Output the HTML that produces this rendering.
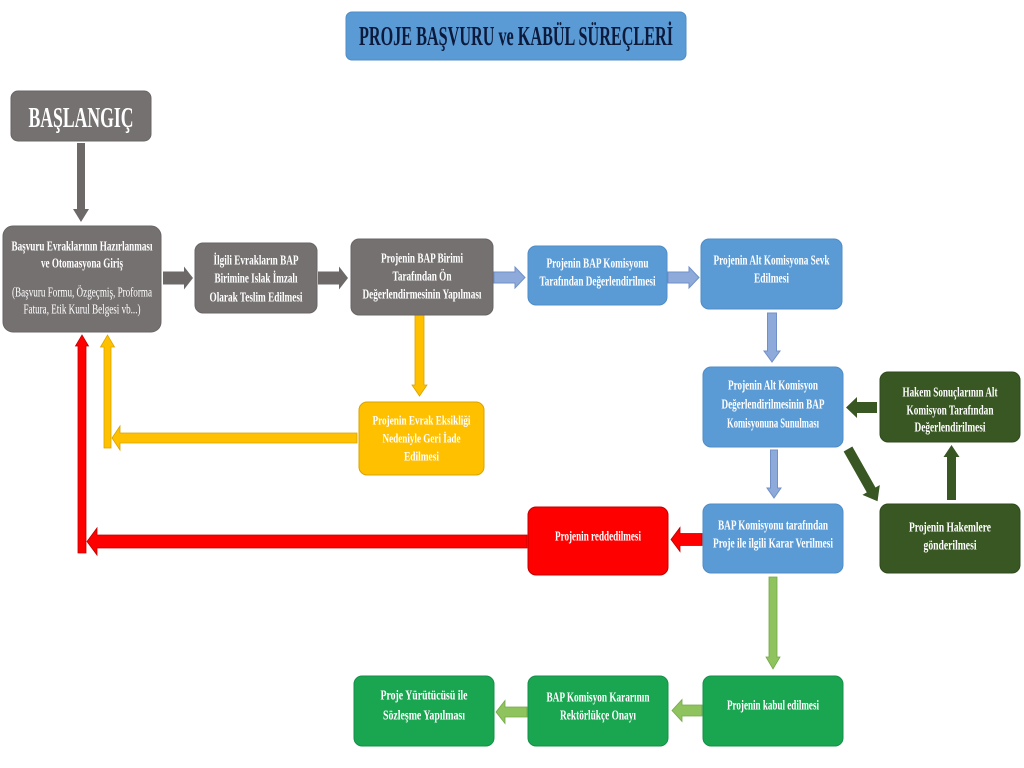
<!DOCTYPE html>
<html><head><meta charset="utf-8"><style>
html,body{margin:0;padding:0;background:#fff;}
svg{display:block;}
text{font-family:"Liberation Serif",serif;font-weight:bold;fill:#fff;}
</style></head><body>
<svg width="1024" height="768" viewBox="0 0 1024 768" xmlns="http://www.w3.org/2000/svg">
<rect x="0" y="0" width="1024" height="768" fill="#fff"/>

<!-- Title -->
<rect x="346" y="12" width="340" height="48" rx="6" fill="#5b9bd5" stroke="#4f8cc6" stroke-width="1"/>
<text x="516" y="45" font-size="27" text-anchor="middle" textLength="314" lengthAdjust="spacingAndGlyphs" style="fill:#0c1a3c">PROJE BAŞVURU ve KABÜL SÜREÇLERİ</text>

<!-- Arrows -->
<g fill="#6d6969">
<polygon points="77,143 85,143 85,209 89,209 81,222 73,209 77,209"/>
<polygon points="163,271.5 184,271.5 184,266.5 193,278 184,289.5 184,284.5 163,284.5"/>
<polygon points="318,271.5 339,271.5 339,266.5 348,278 339,289.5 339,284.5 318,284.5"/>
</g>
<g fill="#8eaadb" stroke="#7190c8" stroke-width="1">
<polygon points="494,272 515,272 515,267 525,277.5 515,288 515,283 494,283"/>
<polygon points="668,272 689,272 689,267 699,277.5 689,288 689,283 668,283"/>
<polygon points="767.5,313 776.5,313 776.5,351 780,351 772,362 764,351 767.5,351"/>
<polygon points="770.5,450 777.5,450 777.5,488 781,488 774,498 767,488 770.5,488"/>
</g>
<g fill="#385723">
<polygon points="877,402 857,402 857,397 846,407.5 857,418 857,413 877,413"/>
<polygon transform="translate(848,449) rotate(60.5)" points="0,-5 47,-5 47,-10 60,0 47,10 47,5 0,5"/>
<polygon points="947,500 956,500 956,457 959.5,457 951.5,445 943.5,457 947,457"/>
</g>
<g fill="#ff0000" stroke="#c00000" stroke-width="0.8">
<polygon points="702,533.5 680,533.5 680,527.5 671,539.5 680,551.5 680,545.5 702,545.5"/>
<polygon points="527,535 97,535 97,528 87,541.5 97,555 97,548 527,548"/>
<polygon points="78,553 78,346 75.5,346 82,335 88.5,346 86,346 86,553"/>
</g>
<g fill="#ffc000" stroke="#d9a400" stroke-width="0.8">
<polygon points="104,448 104,347 100.5,347 107.5,335 114.5,347 111,347 111,448"/>
<polygon points="357,433 120,433 120,426 112,438 120,450 120,443 357,443"/>
<polygon points="415,315 424,315 424,385 427,385 419.5,396 412,385 415,385"/>
</g>
<g fill="#8fc35e" stroke="#74a947" stroke-width="0.8">
<polygon points="769,577 777,577 777,657 780,657 773,669 766,657 769,657"/>
<polygon points="702,705 682,705 682,699.5 672,710.5 682,721.5 682,716 702,716"/>
<polygon points="527,707 505,707 505,700.5 496,712 505,723.5 505,717 527,717"/>
</g>

<!-- Gray boxes -->
<g fill="#767171" stroke="#6a6565" stroke-width="1">
<rect x="11" y="91" width="140" height="50" rx="7"/>
<rect x="3" y="226" width="158" height="106" rx="10"/>
<rect x="195" y="243" width="122" height="70" rx="8"/>
<rect x="351" y="239" width="142" height="76" rx="8"/>
</g>
<!-- Blue boxes -->
<g fill="#5b9bd5" stroke="#4f8cc6" stroke-width="1">
<rect x="528" y="246" width="139" height="59" rx="8"/>
<rect x="701" y="239" width="141" height="70" rx="8"/>
<rect x="703" y="367" width="140" height="80" rx="8"/>
<rect x="703" y="504" width="140" height="69" rx="8"/>
</g>
<!-- Dark green -->
<g fill="#385723" stroke="#2f4a1d" stroke-width="1">
<rect x="880" y="372" width="140" height="70" rx="8"/>
<rect x="880" y="504" width="140" height="69" rx="8"/>
</g>
<rect x="528" y="507" width="140" height="68" rx="8" fill="#ff0000" stroke="#c00000" stroke-width="1"/>
<rect x="359" y="402" width="125" height="73" rx="8" fill="#ffc000" stroke="#d9a400" stroke-width="1"/>
<g fill="#1aa551" stroke="#15904a" stroke-width="1">
<rect x="354" y="676" width="140" height="70" rx="8"/>
<rect x="528" y="676" width="140" height="70" rx="8"/>
<rect x="703" y="676" width="140" height="70" rx="8"/>
</g>

<!-- Texts -->
<g text-anchor="middle" font-size="14">
<text x="81" y="127" font-size="28" textLength="105" lengthAdjust="spacingAndGlyphs">BAŞLANGIÇ</text>

<text x="82" y="250.5" textLength="141" lengthAdjust="spacingAndGlyphs">Başvuru Evraklarının Hazırlanması</text>
<text x="82" y="267.5" textLength="82" lengthAdjust="spacingAndGlyphs">ve Otomasyona Giriş</text>
<text x="82" y="296.5" textLength="140" lengthAdjust="spacingAndGlyphs" style="font-weight:normal">(Başvuru Formu, Özgeçmiş, Proforma</text>
<text x="82" y="313.5" textLength="117" lengthAdjust="spacingAndGlyphs" style="font-weight:normal">Fatura, Etik Kurul Belgesi vb...)</text>

<text x="256" y="264.5" textLength="85" lengthAdjust="spacingAndGlyphs">İlgili Evrakların BAP</text>
<text x="256" y="282.5" textLength="83" lengthAdjust="spacingAndGlyphs">Birimine Islak İmzalı</text>
<text x="256" y="301.5" textLength="93" lengthAdjust="spacingAndGlyphs">Olarak Teslim Edilmesi</text>

<text x="422" y="262.5" textLength="82" lengthAdjust="spacingAndGlyphs">Projenin BAP Birimi</text>
<text x="422" y="280.5" textLength="59" lengthAdjust="spacingAndGlyphs">Tarafından Ön</text>
<text x="422" y="298.5" textLength="119" lengthAdjust="spacingAndGlyphs">Değerlendirmesinin Yapılması</text>

<text x="597.5" y="267.5" textLength="102" lengthAdjust="spacingAndGlyphs">Projenin BAP Komisyonu</text>
<text x="597.5" y="285.5" textLength="116" lengthAdjust="spacingAndGlyphs">Tarafından Değerlendirilmesi</text>

<text x="771.5" y="264.5" textLength="116" lengthAdjust="spacingAndGlyphs">Projenin Alt Komisyona Sevk</text>
<text x="771.5" y="282.5" textLength="35" lengthAdjust="spacingAndGlyphs">Edilmesi</text>

<text x="773" y="389.5" textLength="90" lengthAdjust="spacingAndGlyphs">Projenin Alt Komisyon</text>
<text x="773" y="408.5" textLength="103" lengthAdjust="spacingAndGlyphs">Değerlendirilmesinin BAP</text>
<text x="773" y="427.5" textLength="92" lengthAdjust="spacingAndGlyphs">Komisyonuna Sunulması</text>

<text x="950" y="396.5" textLength="95" lengthAdjust="spacingAndGlyphs">Hakem Sonuçlarının Alt</text>
<text x="950" y="414.5" textLength="87" lengthAdjust="spacingAndGlyphs">Komisyon Tarafından</text>
<text x="950" y="431.5" textLength="71" lengthAdjust="spacingAndGlyphs">Değerlendirilmesi</text>

<text x="773" y="529.5" textLength="110" lengthAdjust="spacingAndGlyphs">BAP Komisyonu tarafından</text>
<text x="773" y="547.5" textLength="120" lengthAdjust="spacingAndGlyphs">Proje ile ilgili Karar Verilmesi</text>

<text x="950" y="531.5" textLength="82" lengthAdjust="spacingAndGlyphs">Projenin Hakemlere</text>
<text x="950" y="549.5" textLength="53" lengthAdjust="spacingAndGlyphs">gönderilmesi</text>

<text x="598" y="540.5" textLength="86" lengthAdjust="spacingAndGlyphs">Projenin reddedilmesi</text>

<text x="421.5" y="424.5" font-size="13" textLength="98" lengthAdjust="spacingAndGlyphs">Projenin Evrak Eksikliği</text>
<text x="421.5" y="442.5" font-size="13" textLength="78" lengthAdjust="spacingAndGlyphs">Nedeniyle Geri İade</text>
<text x="421.5" y="460.5" font-size="13" textLength="35" lengthAdjust="spacingAndGlyphs">Edilmesi</text>

<text x="424" y="699.5" textLength="87" lengthAdjust="spacingAndGlyphs">Proje Yürütücüsü ile</text>
<text x="424" y="719.5" textLength="82" lengthAdjust="spacingAndGlyphs">Sözleşme Yapılması</text>

<text x="598" y="701.5" textLength="103" lengthAdjust="spacingAndGlyphs">BAP Komisyon Kararının</text>
<text x="598" y="719.5" textLength="76" lengthAdjust="spacingAndGlyphs">Rektörlükçe Onayı</text>

<text x="773" y="709.5" textLength="92" lengthAdjust="spacingAndGlyphs">Projenin kabul edilmesi</text>
</g>
</svg>
</body></html>
